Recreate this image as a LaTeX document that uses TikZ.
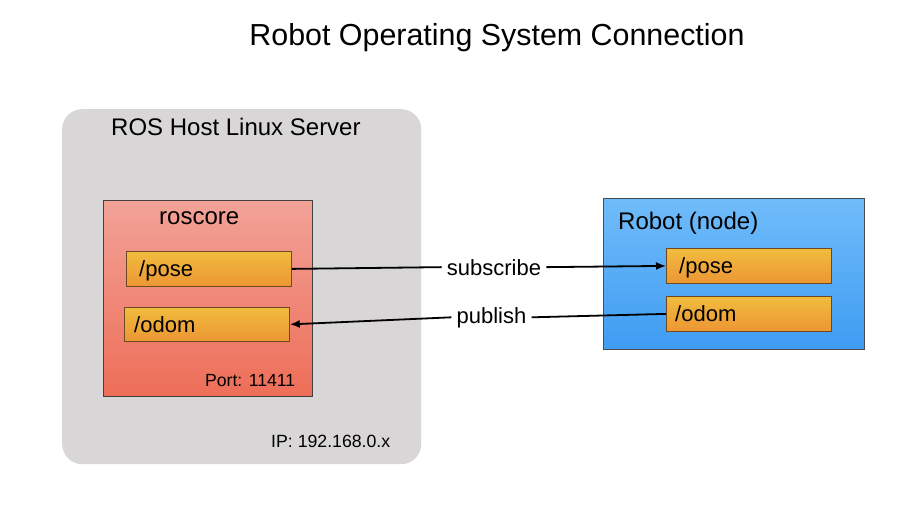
\documentclass[tikz,border=0pt]{standalone}
\usepackage{fontspec}
\setmainfont{Liberation Sans}
\usetikzlibrary{arrows.meta}
\definecolor{hostgray}{RGB}{216,214,215}
\definecolor{pinktop}{RGB}{242,162,152}
\definecolor{pinkbot}{RGB}{238,110,88}
\definecolor{orgtop}{RGB}{241,188,62}
\definecolor{orgbot}{RGB}{236,150,52}
\definecolor{orgline}{RGB}{110,72,30}
\definecolor{bluetop}{RGB}{112,188,250}
\definecolor{bluebot}{RGB}{62,156,242}
\tikzset{
  txt/.style={inner sep=0pt, anchor=base west},
  topicbox/.style={draw=orgline, line width=0.8pt, top color=orgtop, bottom color=orgbot, anchor=north west, inner sep=0pt},
  conn/.style={line width=1.8pt, black},
  tip/.style={-{Latex[length=10pt,width=8pt]}},
  lbl/.style={inner xsep=5pt, inner ysep=0pt, anchor=base, font=\fontsize{22}{26}\selectfont}
}
\begin{document}
\begin{tikzpicture}[x=1pt,y=-1pt]
\useasboundingbox (0,0) rectangle (921,524);
% title
\node[inner sep=0pt, anchor=base, font=\fontsize{30.4}{34}\selectfont] (title) at (497,46) {Robot Operating System Connection};
% host
\node[fill=hostgray, rounded corners=20pt, minimum width=359pt, minimum height=355pt, anchor=north west, inner sep=0pt] (host) at (62,109) {};
\node[txt, font=\fontsize{24}{28}\selectfont] (hosttitle) at (111,136) {ROS Host Linux Server};
\node[txt, font=\fontsize{17.7}{20}\selectfont] (ip) at (271,447) {IP: 192.168.0.x};
% roscore
\node[draw=black!75, line width=0.8pt, top color=pinktop, bottom color=pinkbot, minimum width=209pt, minimum height=196pt, anchor=north west, inner sep=0pt] (roscore) at (103,200) {};
\node[txt, font=\fontsize{24}{28}\selectfont] (roscoretitle) at (159,224) {roscore};
\node[txt, font=\fontsize{17.6}{20}\selectfont] (port) at (205,386) {Port: 11411};
\node[topicbox, minimum width=165pt, minimum height=35pt] (pose1) at (126,251) {};
\node[txt, font=\fontsize{22}{26}\selectfont] (pose1t) at (139,276) {/pose};
\node[topicbox, minimum width=165pt, minimum height=34pt] (odom1) at (124,307) {};
\node[txt, font=\fontsize{22}{26}\selectfont] (odom1t) at (134,332) {/odom};
% robot
\node[draw=black!70, line width=0.8pt, top color=bluetop, bottom color=bluebot, minimum width=261pt, minimum height=151pt, anchor=north west, inner sep=0pt] (robot) at (603,198) {};
\node[txt, font=\fontsize{24}{28}\selectfont] (robottitle) at (618,229) {Robot (node)};
\node[topicbox, minimum width=165pt, minimum height=35pt] (pose2) at (666,248) {};
\node[txt, font=\fontsize{22}{26}\selectfont] (pose2t) at (679,273) {/pose};
\node[topicbox, minimum width=165pt, minimum height=35pt] (odom2) at (666,296) {};
\node[txt, font=\fontsize{22}{26}\selectfont] (odom2t) at (675,321) {/odom};
% labels
\node[lbl] (sub) at (494,275) {subscribe};
\node[lbl] (pub) at (491.5,323) {publish};
% connectors
\draw[conn] (pose1.east) -- (sub.west);
\draw[conn, tip] (sub.east) -- (pose2.west);
\draw[conn] (odom2.west) -- (pub.east);
\draw[conn, tip] (pub.west) -- (odom1.east);
\end{tikzpicture}
\end{document}
